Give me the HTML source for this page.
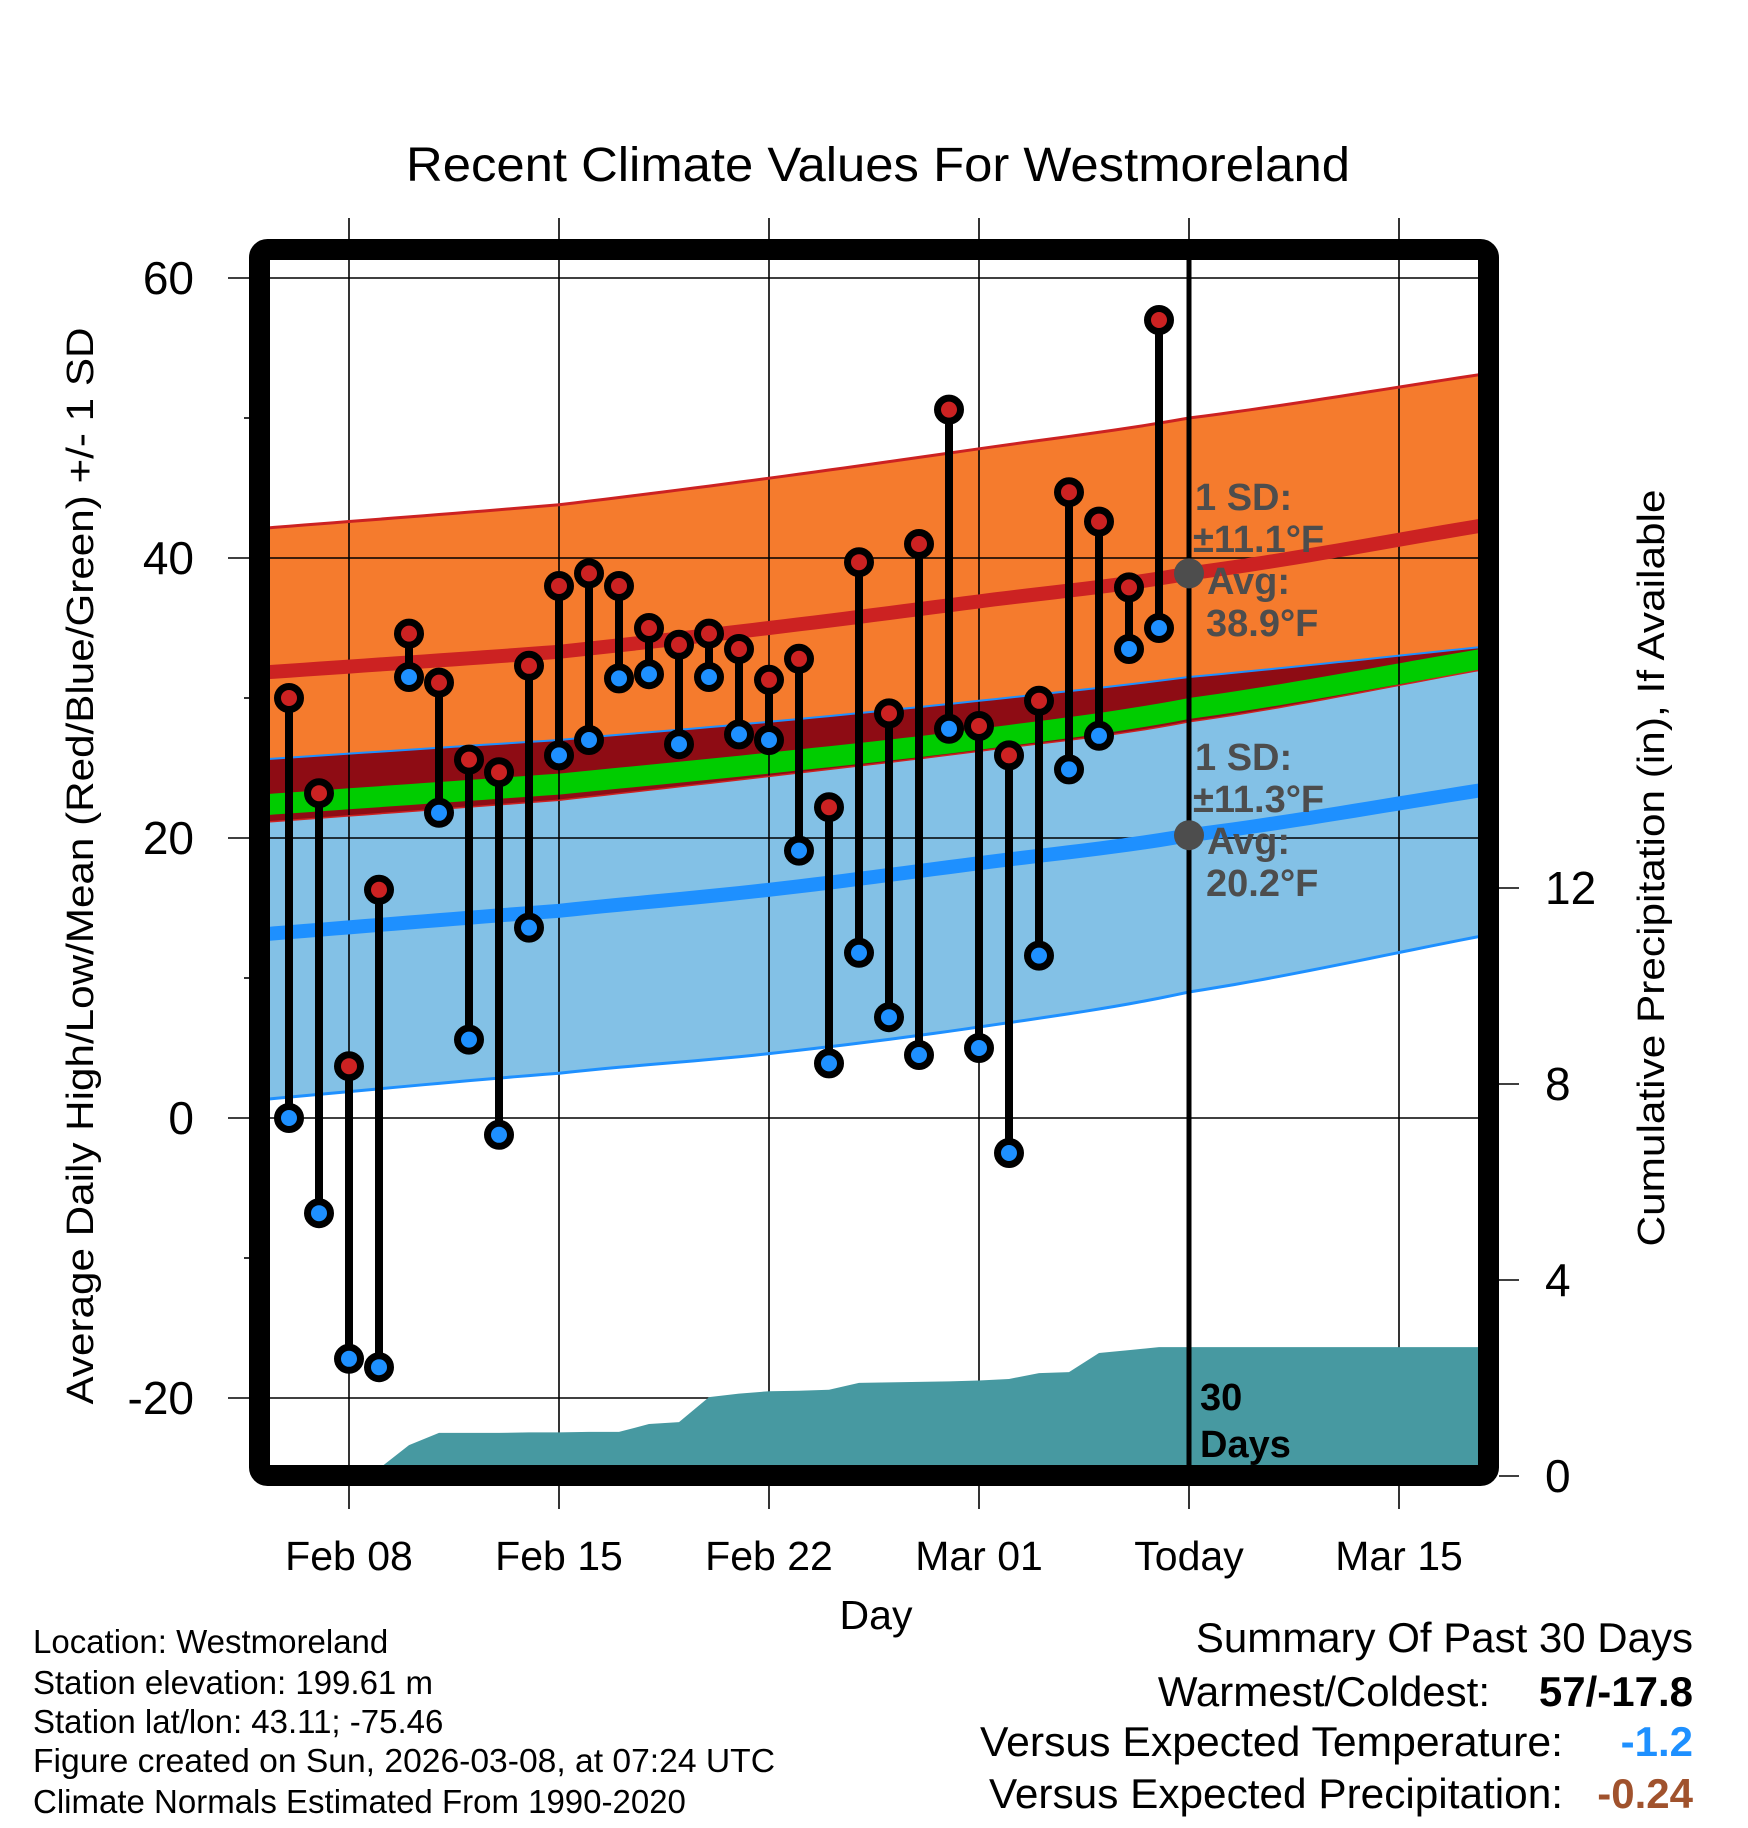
<!DOCTYPE html>
<html><head><meta charset="utf-8"><style>
html,body{margin:0;padding:0;background:#fff;}
svg{display:block;font-family:"Liberation Sans",Arial,sans-serif;}
</style></head><body>
<svg id="chart" width="1748" height="1828" viewBox="0 0 1748 1828" xmlns="http://www.w3.org/2000/svg">
<defs><clipPath id="plotclip"><rect x="270" y="260" width="1208" height="1206"/></clipPath></defs>
<text x="878" y="181" font-size="48" text-anchor="middle" textLength="944" lengthAdjust="spacingAndGlyphs">Recent Climate Values For Westmoreland</text>
<g id="bands" clip-path="url(#plotclip)"></g>
<g id="grid"></g>
<g id="precip" clip-path="url(#plotclip)"></g>
<g id="lines" clip-path="url(#plotclip)"></g>
<g id="marks"></g>
<g id="annot"></g>
<rect x="259.5" y="249.5" width="1229" height="1226" fill="none" stroke="#000" stroke-width="21" rx="8"/>
<g id="axes"></g>
<text transform="translate(93,866) rotate(-90)" font-size="38" text-anchor="middle" textLength="1077" lengthAdjust="spacingAndGlyphs">Average Daily High/Low/Mean (Red/Blue/Green) +/- 1 SD</text>
<text transform="translate(1664,868) rotate(-90)" font-size="38" text-anchor="middle" textLength="757" lengthAdjust="spacingAndGlyphs">Cumulative Precipitation (in), If Available</text>
<text x="876" y="1629" font-size="41" text-anchor="middle">Day</text>
<g font-size="33">
<text x="33" y="1653">Location: Westmoreland</text>
<text x="33" y="1694">Station elevation: 199.61 m</text>
<text x="33" y="1733">Station lat/lon: 43.11; -75.46</text>
<text x="33" y="1772" textLength="742" lengthAdjust="spacingAndGlyphs">Figure created on Sun, 2026-03-08, at 07:24 UTC</text>
<text x="33" y="1813">Climate Normals Estimated From 1990-2020</text>
</g>
<g font-size="42">
<text x="1693" y="1652" text-anchor="end">Summary Of Past 30 Days</text>
<text x="1490" y="1706" text-anchor="end">Warmest/Coldest:</text>
<text x="1693" y="1706" text-anchor="end" font-weight="bold">57/-17.8</text>
<text x="1563" y="1756" text-anchor="end" textLength="583" lengthAdjust="spacingAndGlyphs">Versus Expected Temperature:</text>
<text x="1693" y="1756" text-anchor="end" font-weight="bold" fill="#1e90ff">-1.2</text>
<text x="1563" y="1808" text-anchor="end" textLength="574" lengthAdjust="spacingAndGlyphs">Versus Expected Precipitation:</text>
<text x="1693" y="1808" text-anchor="end" font-weight="bold" fill="#a0522d">-0.24</text>
</g>
</svg>
<script>
// Daily data (day offsets from Feb 08)
const dayOffsets = [-2,-1,0,1,2,3,4,5,6,7,8,9,10,11,12,13,14,15,16,17,18,19,20,21,22,23,24,25,26,27];
const highs = [30,23.2,3.7,16.3,34.6,31.1,25.6,24.7,32.3,38,38.9,38,35,33.8,34.6,33.5,31.3,32.8,22.2,39.7,28.9,41,50.6,28,25.9,29.8,44.7,42.6,37.9,57];
const lows = [0,-6.8,-17.2,-17.8,31.5,21.8,5.6,-1.2,13.6,25.9,27,31.4,31.7,26.7,31.5,27.4,27,19.1,3.9,11.8,7.2,4.5,27.8,5,-2.5,11.6,24.9,27.3,33.5,35];
const precip = [0,0,0,0.15,0.63,0.88,0.88,0.88,0.89,0.89,0.9,0.9,1.06,1.1,1.61,1.68,1.73,1.74,1.76,1.9,1.91,1.92,1.93,1.95,1.98,2.1,2.12,2.51,2.57,2.63];
// Normals sampled at day offsets
const normDays = [-3,7,14,21,28,38];
const highPlus = [42.1,43.8,45.7,47.8,50.0,53.2];
const highMean = [31.8,33.3,35.0,36.9,38.9,42.4];
const highMinus = [21.1,22.7,24.4,26.2,28.3,32.1];
const lowPlus = [25.6,27.0,28.3,29.8,31.5,33.7];
const greenTop = [23.1,24.6,26.1,27.8,30.0,33.6];
const greenBot = [21.6,23.1,24.6,26.3,28.5,32.1];
const lowMean = [13.1,14.8,16.3,18.2,20.2,23.5];
const lowMinus = [1.3,3.2,4.6,6.5,9.0,13.1];
const yTicks = [60,40,20,0,-20];
const yMinor = [50,30,10,-10];
const pTicks = [0,4,8,12];
const xTickDays = [0,7,14,21,28,35];
const xTickLabels = ["Feb 08","Feb 15","Feb 22","Mar 01","Today","Mar 15"];
const todayDay = 28;

const NS="http://www.w3.org/2000/svg";
function X(d){return 349+30*d;}
function Y(t){return 278+(60-t)*14;}
function P(p){return 1476-49*p;}
function mk(tag,attrs,parent){const e=document.createElementNS(NS,tag);for(const k in attrs)e.setAttribute(k,attrs[k]);parent.appendChild(e);return e;}
// Catmull-Rom smooth interpolation over the sampled normals
function interp(arr,d){
 const n=normDays.length;let i=0;
 while(i<n-2&&d>normDays[i+1])i++;
 const t=(d-normDays[i])/(normDays[i+1]-normDays[i]);
 const p0=i>0?arr[i-1]:2*arr[i]-arr[i+1],p1=arr[i],p2=arr[i+1],p3=i+2<n?arr[i+2]:2*arr[i+1]-arr[i];
 return 0.5*((2*p1)+(-p0+p2)*t+(2*p0-5*p1+4*p2-p3)*t*t+(-p0+3*p1-3*p2+p3)*t*t*t);
}
function curve(arr){const pts=[];for(let d=normDays[0];d<=normDays[normDays.length-1]+0.01;d+=0.5)pts.push([X(d),Y(interp(arr,d))]);return pts;}
function band(top,bot){const a=curve(top),b=curve(bot).reverse();return a.concat(b).map(p=>p.join(',')).join(' ');}
function line(arr){return curve(arr).map(p=>p.join(',')).join(' ');}

const bands=document.getElementById('bands');
let e;
e=mk('polygon',{points:band(highPlus,highMinus),fill:'#f57b2d'},bands);

e=mk('polygon',{points:band(lowPlus,lowMinus),fill:'#83c1e6'},bands);

e=mk('polygon',{points:band(lowPlus,highMinus),fill:'#8e0c14'},bands);

e=mk('polygon',{points:band(greenTop,greenBot),fill:'#00cc00'},bands);


const grid=document.getElementById('grid');
yTicks.forEach(t=>{e=mk('line',{x1:228,x2:1478,y1:Y(t),y2:Y(t),stroke:'#000','stroke-width':1.6},grid);
});
yMinor.forEach(t=>{e=mk('line',{x1:244,x2:260,y1:Y(t),y2:Y(t),stroke:'#000','stroke-width':1.6},grid);
});
xTickDays.forEach((d,i)=>{e=mk('line',{x1:X(d),x2:X(d),y1:218,y2:1509,stroke:'#000','stroke-width':1.6},grid);
 });

const pg=document.getElementById('precip');
let pts=[[X(dayOffsets[0]),1480]];
dayOffsets.forEach((d,i)=>pts.push([X(d),P(precip[i])]));
pts.push([1480,P(precip[precip.length-1])]);pts.push([1480,1480]);
e=mk('polygon',{points:pts.map(p=>p.join(',')).join(' '),fill:'#4799a1'},pg);


const lg=document.getElementById('lines');
e=mk('polyline',{points:line(highPlus),fill:'none',stroke:'#cc2222','stroke-width':3},lg);

e=mk('polyline',{points:line(highMinus),fill:'none',stroke:'#cc2222','stroke-width':1.5},lg);

e=mk('polyline',{points:line(lowPlus),fill:'none',stroke:'#1e90ff','stroke-width':2},lg);

e=mk('polyline',{points:line(lowMinus),fill:'none',stroke:'#1e90ff','stroke-width':3},lg);

e=mk('polyline',{points:line(highMean),fill:'none',stroke:'#cc2222','stroke-width':14},lg);

e=mk('polyline',{points:line(lowMean),fill:'none',stroke:'#1e90ff','stroke-width':14},lg);

e=mk('line',{x1:X(todayDay),x2:X(todayDay),y1:260,y2:1466,stroke:'#000','stroke-width':5},lg);


const mg=document.getElementById('marks');
dayOffsets.forEach((d,i)=>{
 e=mk('line',{x1:X(d),x2:X(d),y1:Y(highs[i]),y2:Y(lows[i]),stroke:'#000','stroke-width':8},mg);
 
});
dayOffsets.forEach((d,i)=>{
 e=mk('circle',{cx:X(d),cy:Y(highs[i]),r:11.5,fill:'#cc2222',stroke:'#000','stroke-width':7},mg);
 
 e=mk('circle',{cx:X(d),cy:Y(lows[i]),r:11.5,fill:'#1e90ff',stroke:'#000','stroke-width':7},mg);
 
});

const an=document.getElementById('annot');
e=mk('circle',{cx:X(todayDay),cy:Y(interp(highMean,todayDay)),r:15,fill:'#4d4d4d'},an);

e=mk('circle',{cx:X(todayDay),cy:Y(interp(lowMean,todayDay)),r:15,fill:'#4d4d4d'},an);

const annText=[[1195,510,'1 SD:'],[1193,552,'±11.1°F'],[1207,594,'Avg:'],[1206,636,'38.9°F'],[1195,770,'1 SD:'],[1193,812,'±11.3°F'],[1207,854,'Avg:'],[1206,896,'20.2°F']];
annText.forEach(a=>{e=mk('text',{x:a[0],y:a[1],'font-size':38,'font-weight':'bold',fill:'#4d4d4d'},an);e.textContent=a[2];
 });
e=mk('text',{x:1200,y:1410,'font-size':38,'font-weight':'bold'},an);e.textContent='30';

e=mk('text',{x:1200,y:1457,'font-size':38,'font-weight':'bold'},an);e.textContent='Days';


const ax=document.getElementById('axes');
yTicks.forEach(t=>{e=mk('text',{x:194,y:Y(t)+16,'font-size':46,'text-anchor':'end'},ax);e.textContent=t;
 });
pTicks.forEach(p=>{e=mk('line',{x1:1499,x2:1519,y1:P(p),y2:P(p),stroke:'#000','stroke-width':1.6},ax);
 
 e=mk('text',{x:1545,y:P(p)+16,'font-size':46},ax);e.textContent=p;
 });
xTickDays.forEach((d,i)=>{e=mk('text',{x:X(d),y:1570,'font-size':41,'text-anchor':'middle'},ax);e.textContent=xTickLabels[i];
 });
</script>
</body></html>
